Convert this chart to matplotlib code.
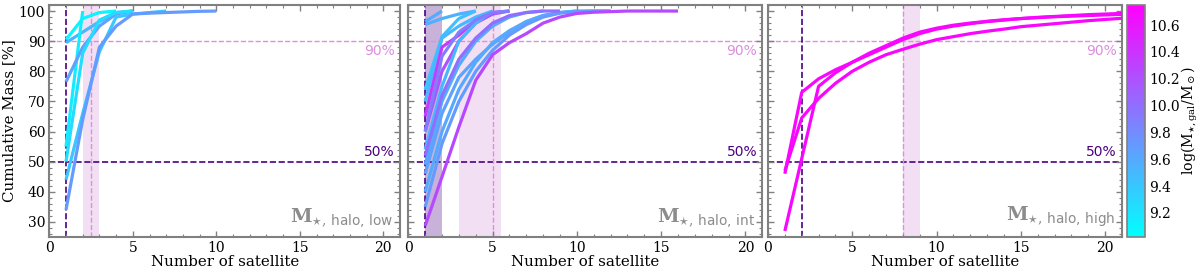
import numpy as np
import matplotlib
matplotlib.use("Agg")
import matplotlib.pyplot as plt
from matplotlib.colors import Normalize
from matplotlib.cm import ScalarMappable
from matplotlib.ticker import MultipleLocator

plt.rcParams['font.family'] = ['DejaVu Serif']
plt.rcParams['mathtext.fontset'] = 'dejavuserif'

# ---------------- data ----------------
low_curves = [
    [90.5, 97.5, 99.5, 100],
    [89.5, 93, 96.5, 99.5, 100],
    [55, 100],
    [76.5, 88, 95, 99, 100],
    [50, 86, 97, 99.5, 100],
    [44, 66, 86.5, 98, 99, 99.5, 100],
    [34, 64, 88, 95, 99, 99.3, 99.5, 99.7, 99.9, 100],
]
low_mass = [9.1, 9.5, 9.15, 9.65, 9.25, 9.4, 9.7]

int_curves = [
    [96.5, 100],
    [95.5, 97.5, 99, 100],
    [74, 91.5, 97.5, 100],
    [70, 91, 95, 98, 100],
    [65, 88, 92, 97, 99.5, 100],
    [60, 80, 90, 96, 99, 100],
    [54, 75, 90, 96, 100],
    [49, 70, 82, 90, 95, 98, 99.5, 100],
    [46, 66, 78, 84, 89, 93, 96.5, 98.5, 99.5, 100],
    [40, 60, 74, 83, 89.5, 93.5, 96.5, 98.5, 99.5, 100, 100, 100],
    [35, 56, 70, 80, 87, 92, 95.5, 98, 99.3, 99.8, 100, 100],
    [60, 85, 93, 97, 99.5, 100],
    [52, 72, 84, 91, 96, 98.5, 99.5, 100, 100],
    [28.7, 45, 61.5, 77, 85.5, 89.5, 92.5, 96, 98, 99.2, 99.6, 99.8, 100, 100, 100, 100],
]
int_mass = [9.6, 9.55, 9.45, 9.5, 10.35, 10.2, 9.5, 9.6, 9.65, 9.6, 9.7, 9.9, 10.0, 10.25]

high_curves = [
    [46, 73, 77.5, 80.5, 83, 85.5, 88, 90.5, 92.5, 94, 95, 95.8, 96.5, 97, 97.5,
     97.9, 98.2, 98.5, 98.8, 99, 99.2, 99.4, 99.5],
    [27, 51, 75, 79.5, 83, 86, 88.5, 91, 93, 94.3, 95.3, 96, 96.6, 97.1, 97.5,
     97.8, 98.1, 98.3, 98.5, 98.7, 98.9, 99.0, 99.1],
    [47, 64.5, 71, 76, 80, 83, 85.5, 87.3, 89, 90.5, 91.5, 92.5, 93.3, 94, 94.8,
     95.3, 95.8, 96.3, 96.8, 97.2, 97.6, 97.9, 98.1],
]
high_mass = [10.7, 10.7, 10.7]

dark_med = [1, 1, 2]
dark_span = [(1, 1), (1, 2), (2, 2)]
pink_med = [2.5, 5, 8]
pink_span = [(2, 3), (3, 5.5), (8, 9)]
panel_labels = ['low', 'int', 'high']

vmin, vmax = 9.02, 10.75
cbar_ticks = [9.2, 9.4, 9.6, 9.8, 10.0, 10.2, 10.4, 10.6]

# ---------------- figure ----------------
W, H = 1200, 275
fig = plt.figure(figsize=(W / 100, H / 100), dpi=100)
bottom = (H - 237) / H
height = (237 - 5) / H
axes_px = [(49.3, 350.7), (408.3, 354), (768, 354)]
axes = [fig.add_axes([l / W, bottom, w / W, height]) for l, w in axes_px]
cax = fig.add_axes([1127 / W, bottom, 18 / W, height])

cmap = plt.get_cmap('cool')
norm = Normalize(vmin, vmax)

pink = '#dc8fdc'
dark = '#4b0082'
frame = '#808080'

data = [(low_curves, low_mass), (int_curves, int_mass), (high_curves, high_mass)]

for i, ax in enumerate(axes):
    curves, masses = data[i]
    ax.axvspan(*pink_span[i], color='#e6b8e6', alpha=0.45, lw=0, zorder=0)
    if dark_span[i][1] > dark_span[i][0]:
        ax.axvspan(*dark_span[i], color=dark, alpha=0.3, lw=0, zorder=0)
    ax.axhline(90, color=pink, ls='--', lw=1.0, zorder=1)
    ax.axhline(50, color=dark, ls='--', lw=1.2, zorder=1)
    ax.axvline(pink_med[i], color=pink, ls='--', lw=1.0, zorder=1)
    ax.axvline(dark_med[i], color=dark, ls='--', lw=1.2, zorder=1)
    for c, m in zip(curves, masses):
        x = np.arange(1, len(c) + 1)
        ax.plot(x, c, color=cmap(norm(m)), lw=2.3, zorder=3, solid_capstyle='butt')
    ax.set_xlim(0, 21)
    ax.set_ylim(25, 102)
    ax.xaxis.set_major_locator(MultipleLocator(5))
    ax.xaxis.set_minor_locator(MultipleLocator(1))
    ax.yaxis.set_major_locator(MultipleLocator(10))
    ax.yaxis.set_minor_locator(MultipleLocator(2))
    ax.set_yticks(range(30, 101, 10))
    ax.tick_params(which='both', direction='in', top=True, right=True,
                   color=frame, labelsize=10)
    ax.tick_params(which='major', length=4, width=1, pad=3)
    ax.tick_params(which='minor', length=2, width=0.8)
    for s in ax.spines.values():
        s.set_color(frame)
        s.set_linewidth(1.5)
    ax.set_xlabel('Number of satellite', fontsize=10.8, labelpad=0)
    if i > 0:
        ax.tick_params(labelleft=False)
    ax.text(20.7, 89, '90%', color=pink, fontsize=10, family='DejaVu Sans',
            ha='right', va='top')
    ax.text(20.7, 51, '50%', color=dark, fontsize=10, family='DejaVu Sans',
            ha='right', va='bottom')
    ax.text(20.6, 27.5, r'$\mathbf{M}_{\star,\,\mathsf{halo,\,%s}}$' % panel_labels[i],
            color='#8c8c8c', fontsize=14, ha='right', va='bottom')

axes[0].set_ylabel('Cumulative Mass [%]', fontsize=10.8, labelpad=2)

sm = ScalarMappable(norm=norm, cmap=cmap)
cb = fig.colorbar(sm, cax=cax, ticks=cbar_ticks)
cb.ax.tick_params(length=0, labelsize=10, pad=3)
cb.outline.set_edgecolor(frame)
cb.outline.set_linewidth(1.2)
cb.set_label(r'log(M$_{\star,\rm gal}$/M$_\odot$)', fontsize=10.3, labelpad=0)

fig.savefig('out.png', dpi=100)
